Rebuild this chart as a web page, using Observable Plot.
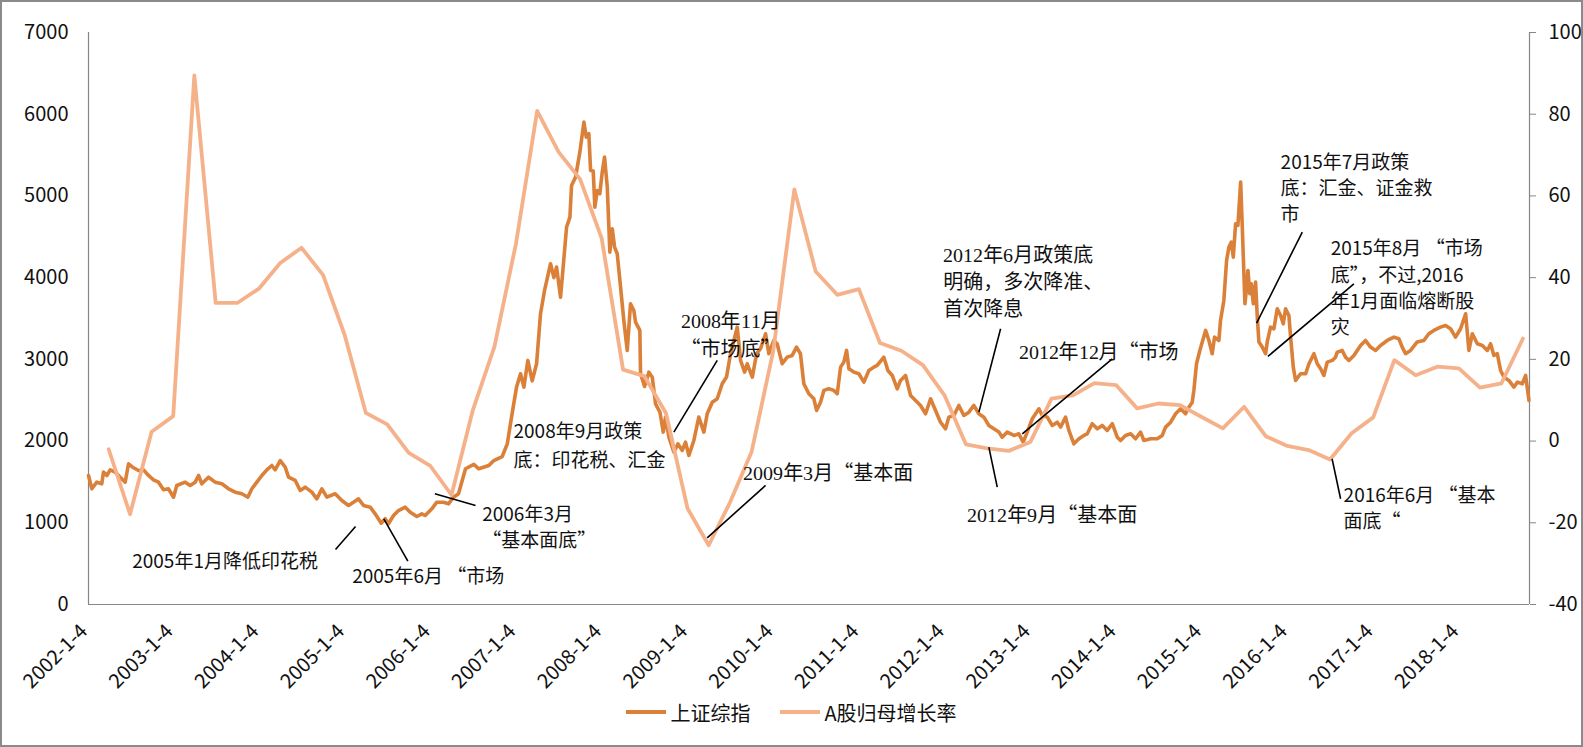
<!DOCTYPE html>
<html><head><meta charset="utf-8">
<script src="https://cdn.jsdelivr.net/npm/d3@7"></script>
<script src="https://cdn.jsdelivr.net/npm/@observablehq/plot@0.6"></script>
<style>
@font-face { font-family: "SerifLatin"; src: local("Liberation Serif"), local("LiberationSerif"), local("Liberation Serif Regular"); unicode-range: U+0020-007E; }
html,body{margin:0;padding:0;background:#fff;}
body{width:1583px;height:747px;overflow:hidden;position:relative;font-family:"Noto Sans CJK SC",sans-serif;}
#frame{position:fixed;left:0;top:0;width:1583px;height:747px;box-sizing:border-box;border:2px solid #8a8a8a;pointer-events:none;}
#legend{display:flex;justify-content:center;align-items:center;height:44px;font-size:20px;color:#111;}
.item{display:flex;align-items:center;margin:0 15px;}
.sw{display:inline-block;width:40px;height:4px;margin-right:4px;}
svg{display:block;}
</style></head><body>
<div id="chart"></div>
<div id="legend"></div>
<div id="frame"></div>
<script>
// 上证综指: [decimal year, index level]
const shIndex = [
[2002.010,1579],[2002.049,1416],[2002.107,1497],[2002.165,1477],[2002.185,1620],[2002.224,1579],[2002.263,1648],[2002.321,1620],[2002.380,1558],[2002.438,1497],[2002.477,1722],[2002.535,1673],[2002.593,1640],[2002.652,1648],[2002.710,1579],[2002.768,1526],[2002.827,1497],[2002.885,1404],[2002.943,1416],
[2003.002,1313],[2003.040,1456],[2003.138,1497],[2003.196,1456],[2003.255,1497],[2003.294,1579],[2003.332,1477],[2003.410,1558],[2003.488,1497],[2003.566,1477],[2003.644,1416],[2003.722,1375],[2003.799,1355],[2003.869,1313],[2003.916,1416],[2003.974,1497],
[2004.033,1579],[2004.091,1648],[2004.149,1701],[2004.188,1648],[2004.247,1762],[2004.305,1681],[2004.344,1558],[2004.422,1518],[2004.480,1395],[2004.538,1436],[2004.616,1375],[2004.674,1293],[2004.733,1416],[2004.791,1313],[2004.888,1355],[2004.966,1273],
[2005.044,1212],[2005.102,1252],[2005.160,1293],[2005.219,1212],[2005.297,1191],[2005.355,1110],[2005.425,995],[2005.472,1049],[2005.510,988],[2005.569,1089],[2005.627,1150],[2005.705,1191],[2005.764,1130],[2005.841,1077],[2005.899,1110],[2005.938,1089],
[2006.016,1171],[2006.074,1252],[2006.152,1252],[2006.210,1232],[2006.269,1313],[2006.327,1355],[2006.409,1661],[2006.506,1714],[2006.564,1661],[2006.681,1701],[2006.739,1762],[2006.837,1811],[2006.896,1966],[2006.946,2293],
[2007.004,2660],[2007.051,2824],[2007.090,2660],[2007.136,2987],[2007.187,2736],[2007.238,2946],[2007.284,3558],[2007.331,3843],[2007.401,4170],[2007.440,4000],[2007.471,4129],[2007.518,3761],[2007.588,4618],[2007.627,4740],[2007.646,5128],[2007.693,5230],[2007.743,5536],[2007.790,5903],[2007.818,5720],[2007.848,5761],[2007.868,5312],[2007.899,5304],[2007.918,4863],[2007.946,5067],[2007.976,5027],
[2008.004,5291],[2008.031,5475],[2008.063,5108],[2008.093,4312],[2008.121,4598],[2008.148,4374],[2008.179,4292],[2008.218,3884],[2008.256,3476],[2008.296,3109],[2008.334,3680],[2008.373,3598],[2008.393,3455],[2008.443,3354],[2008.451,2824],[2008.498,2668],[2008.548,2843],[2008.588,2782],[2008.626,2456],[2008.677,2355],[2008.716,2110],[2008.743,2293],[2008.782,2048],[2008.840,1864],[2008.887,1966],[2008.938,1885],[2008.976,1987],
[2009.015,1824],[2009.073,2007],[2009.131,2293],[2009.190,2110],[2009.229,2334],[2009.288,2476],[2009.346,2518],[2009.404,2701],[2009.454,2783],[2009.501,3069],[2009.540,3231],[2009.579,3394],[2009.618,2987],[2009.665,2844],[2009.696,2946],[2009.755,2783],[2009.805,3069],[2009.851,3130],[2009.910,3313],[2009.948,3069],
[2010.006,3231],[2010.045,3191],[2010.104,2946],[2010.162,3027],[2010.221,3048],[2010.271,3150],[2010.317,3069],[2010.356,2701],[2010.415,2579],[2010.473,2518],[2010.505,2375],[2010.551,2476],[2010.590,2620],[2010.648,2640],[2010.707,2620],[2010.746,2579],[2010.785,2905],[2010.823,2966],[2010.855,3109],[2010.882,2885],[2010.940,2844],[2010.998,2824],
[2011.057,2721],[2011.115,2864],[2011.173,2905],[2011.212,2925],[2011.290,3027],[2011.337,2864],[2011.388,2803],[2011.446,2640],[2011.485,2742],[2011.543,2803],[2011.602,2558],[2011.660,2497],[2011.718,2436],[2011.777,2334],[2011.835,2518],[2011.893,2375],[2011.951,2231],
[2012.010,2150],[2012.048,2293],[2012.107,2313],[2012.165,2436],[2012.223,2313],[2012.282,2354],[2012.340,2436],[2012.398,2334],[2012.457,2293],[2012.515,2191],[2012.573,2150],[2012.632,2110],[2012.671,2048],[2012.730,2110],[2012.807,2069],[2012.865,2089],[2012.916,1987],[2012.963,2110],
[2013.022,2273],[2013.099,2395],[2013.138,2313],[2013.197,2293],[2013.255,2191],[2013.313,2231],[2013.352,2171],[2013.410,2293],[2013.449,2130],[2013.507,1966],[2013.566,2028],[2013.624,2069],[2013.663,2089],[2013.721,2212],[2013.780,2150],[2013.838,2191],[2013.896,2130],[2013.955,2212],
[2014.013,2048],[2014.052,2007],[2014.110,2069],[2014.169,2089],[2014.227,2028],[2014.285,2110],[2014.324,2007],[2014.402,2028],[2014.480,2028],[2014.538,2069],[2014.577,2171],[2014.636,2231],[2014.694,2334],[2014.752,2395],[2014.810,2334],[2014.849,2415],[2014.888,2476],[2014.907,2620],[2014.938,2946],[2014.977,3109],
[2015.005,3213],[2015.044,3354],[2015.083,3231],[2015.121,3069],[2015.148,3272],[2015.199,3231],[2015.218,3476],[2015.257,3721],[2015.289,4210],[2015.316,4374],[2015.344,4435],[2015.367,4251],[2015.394,4660],[2015.421,4639],[2015.453,5169],[2015.472,4618],[2015.503,3680],[2015.523,3884],[2015.538,4088],[2015.561,3803],[2015.577,3925],[2015.601,3680],[2015.627,3945],[2015.647,3517],[2015.666,3213],[2015.705,3150],[2015.744,3069],[2015.763,3213],[2015.802,3394],[2015.841,3374],[2015.880,3619],[2015.919,3537],[2015.950,3435],[2015.977,3619],
[2016.016,3537],[2016.036,3272],[2016.067,2905],[2016.094,2742],[2016.152,2824],[2016.211,2824],[2016.250,2946],[2016.308,3069],[2016.347,2946],[2016.386,2885],[2016.424,2803],[2016.463,2966],[2016.522,2987],[2016.560,3027],[2016.580,3088],[2016.638,3109],[2016.677,3027],[2016.716,2987],[2016.774,3048],[2016.852,3170],[2016.910,3231],[2016.968,3150],
[2017.027,3109],[2017.085,3170],[2017.163,3231],[2017.241,3272],[2017.299,3252],[2017.338,3150],[2017.377,3069],[2017.435,3109],[2017.513,3213],[2017.590,3231],[2017.649,3313],[2017.707,3354],[2017.785,3394],[2017.843,3415],[2017.902,3374],[2017.960,3272],
[2018.019,3374],[2018.078,3558],[2018.116,3109],[2018.156,3313],[2018.214,3191],[2018.273,3170],[2018.331,3109],[2018.369,3191],[2018.408,3048],[2018.447,3069],[2018.486,2864],[2018.525,2782],[2018.583,2742],[2018.641,2660],[2018.681,2721],[2018.739,2701],[2018.778,2803],[2018.817,2497]
];

// A股归母增长率 (%), quarterly
const growthQuarters = [
"2002-03-31","2002-06-30","2002-09-30","2002-12-31","2003-03-31","2003-06-30","2003-09-30","2003-12-31",
"2004-03-31","2004-06-30","2004-09-30","2004-12-31","2005-03-31","2005-06-30","2005-09-30","2005-12-31",
"2006-03-31","2006-06-30","2006-09-30","2006-12-31","2007-03-31","2007-06-30","2007-09-30","2007-12-31",
"2008-03-31","2008-06-30","2008-09-30","2008-12-31","2009-03-31","2009-06-30","2009-09-30","2009-12-31",
"2010-03-31","2010-06-30","2010-09-30","2010-12-31","2011-03-31","2011-06-30","2011-09-30","2011-12-31",
"2012-03-31","2012-06-30","2012-09-30","2012-12-31","2013-03-31","2013-06-30","2013-09-30","2013-12-31",
"2014-03-31","2014-06-30","2014-09-30","2014-12-31","2015-03-31","2015-06-30","2015-09-30","2015-12-31",
"2016-03-31","2016-06-30","2016-09-30","2016-12-31","2017-03-31","2017-06-30","2017-09-30","2017-12-31",
"2018-03-31","2018-06-30","2018-09-30"
];
const growthValues = [
-2,-17.9,2.3,6.1,89.5,33.8,33.8,37.3,
43.6,47.3,40.6,25.9,6.9,4.1,-2.9,-6.1,
-13.2,7.6,23.1,48.4,80.8,70.8,64.1,49.6,
17.5,15.9,6.8,-16.5,-25.5,-15,-2.6,22,
61.6,41.5,35.8,37.2,24.0,22.1,18.6,11.2,
-0.8,-1.8,-2.4,-0.2,10.4,11.2,14.2,13.7,
8.0,9.2,8.8,5.9,3.1,8.4,1.2,-1.2,
-2.2,-4.5,1.9,5.8,19.8,16.1,18.2,17.8,
13.1,14.1,25.1
];

const leftTicks = [0,1000,2000,3000,4000,5000,6000,7000];
const rightTicks = [-40,-20,0,20,40,60,80,100];
const xTickLabels = ["2002-1-4","2003-1-4","2004-1-4","2005-1-4","2006-1-4","2007-1-4","2008-1-4","2009-1-4","2010-1-4","2011-1-4","2012-1-4","2013-1-4","2014-1-4","2015-1-4","2016-1-4","2017-1-4","2018-1-4"];
const xDomain = ["2002-1-4","2018-10-28"];
const seriesNames = ["上证综指","A股归母增长率"];
const seriesColors = ["#DB8038","#F5B28A"];

// annotations: position in [decimal year, index level]
const annoSans = [
{t:2002.52,v:526,text:"2005年1月降低印花税"},
{t:2005.087,v:343,text:"2005年6月 “市场"},
{t:2006.604,v:1100,text:"2006年3月"},
{t:2006.604,v:777,text:"“基本面底”"},
{t:2006.969,v:2117,text:"2008年9月政策"},
{t:2006.969,v:1763,text:"底：印花税、汇金"},
{t:2015.919,v:5410,text:"2015年7月政策"},
{t:2015.919,v:5092,text:"底：汇金、证金救"},
{t:2015.919,v:4768,text:"市"},
{t:2016.503,v:4350,text:"2015年8月 “市场"},
{t:2016.503,v:4027,text:"底”，不过,2016"},
{t:2016.503,v:3704,text:"年1月面临熔断股"},
{t:2016.503,v:3380,text:"灾"},
{t:2016.654,v:1334,text:"2016年6月 “基本"},
{t:2016.654,v:1010,text:"面底“"}
];
const annoSerif = [
{t:2009.649,v:1603,text:"2009年3月“基本面"},
{t:2011.983,v:4270,text:"2012年6月政策底"},
{t:2011.983,v:3935,text:"明确，多次降准、"},
{t:2011.983,v:3610,text:"首次降息"},
{t:2012.862,v:3084,text:"2012年12月“市场"},
{t:2012.263,v:1089,text:"2012年9月“基本面"}
];
const annoSerifCentered = [
{t:2009.501,v:3460,text:"2008年11月"},
{t:2009.501,v:3121,text:"“市场底”"}
];
const annoLinks = [
{t1:2004.892,v1:673,t2:2005.126,v2:955},
{t1:2005.736,v1:530,t2:2005.456,v2:1049},
{t1:2006.526,v1:1212,t2:2006.051,v2:1355},
{t1:2009.346,v1:2987,t2:2008.840,v2:2109},
{t1:2009.91,v1:1457,t2:2009.229,v2:816},
{t1:2012.652,v1:3375,t2:2012.399,v2:2354},
{t1:2013.955,v1:3007,t2:2012.905,v2:2089},
{t1:2012.515,v1:1925,t2:2012.613,v2:1436},
{t1:2016.172,v1:4557,t2:2015.639,v2:3443},
{t1:2016.774,v1:3925,t2:2015.771,v2:3036},
{t1:2016.52,v1:1783,t2:2016.619,v2:1294}
];

const YEAR = 365.25 * 864e5;
const parseDate = s => { const [y,m,d] = s.split("-").map(Number); return new Date(Date.UTC(y, m - 1, d)); };
const T0 = Date.UTC(2002, 0, 4);
const fromYear = t => new Date(T0 + (t - 2002.01) * YEAR);
const toLeft = g => (g + 40) * 50;   // right axis (-40..100) onto left scale (0..7000)

const indexData = shIndex.map(([t, v]) => ({date: fromYear(t), value: v}));
const growthData = growthQuarters.map((q, i) => ({date: parseDate(q), value: growthValues[i]}));
const xTicks = xTickLabels.map(l => ({label: l, date: parseDate(l)}));

const SANS = "'Noto Sans CJK SC', sans-serif";
const SERIF = "SerifLatin, 'Noto Sans CJK SC', serif";
const AX = "#868686";
const AF = 19;

function draw() {
const chart = Plot.plot({
  width: 1583, height: 690,
  marginLeft: 88, marginRight: 54, marginTop: 32, marginBottom: 86,
  x: {type: "utc", domain: xDomain.map(parseDate), axis: null},
  y: {domain: [0, 7000], axis: null},
  style: {fontFamily: SANS, fontSize: "20px", color: "#111", background: "transparent", overflow: "visible"},
  marks: [
    Plot.ruleX([parseDate(xDomain[0])], {stroke: AX, strokeWidth: 1.2}),
    Plot.ruleX([parseDate(xDomain[1])], {stroke: AX, strokeWidth: 1.2}),
    Plot.ruleY([0], {stroke: AX, strokeWidth: 1.2}),
    Plot.axisY(leftTicks, {anchor: "left", tickSize: 0, tickPadding: 20, label: null, fontSize: 20, tickFormat: v => String(v)}),
    Plot.axisY(rightTicks.map(toLeft), {anchor: "right", tickSize: 6, tickPadding: 13, label: null, stroke: AX, fontSize: 20, tickFormat: v => String(v / 50 - 40)}),
    Plot.text(xTicks, {x: "date", text: "label", frameAnchor: "bottom", dy: 28, rotate: -45, textAnchor: "end", fontSize: 20, fill: "#111"}),
    Plot.line(indexData, {x: "date", y: "value", stroke: seriesColors[0], strokeWidth: 3.6, strokeLinejoin: "round", strokeLinecap: "round"}),
    Plot.line(growthData, {x: "date", y: d => toLeft(d.value), stroke: seriesColors[1], strokeWidth: 3.8, strokeLinejoin: "round", strokeLinecap: "round"}),
    Plot.link(annoLinks, {x1: d => fromYear(d.t1), y1: "v1", x2: d => fromYear(d.t2), y2: "v2", stroke: "#000", strokeWidth: 1.6}),
    Plot.text(annoSans, {x: d => fromYear(d.t), y: "v", text: "text", textAnchor: "start", fontSize: AF, fontFamily: SANS, fill: "#111"}),
    Plot.text(annoSerif, {x: d => fromYear(d.t), y: "v", text: "text", textAnchor: "start", fontSize: AF + 1, fontFamily: SERIF, fill: "#111"}),
    Plot.text(annoSerifCentered, {x: d => fromYear(d.t), y: "v", text: "text", textAnchor: "middle", fontSize: AF + 1, fontFamily: SERIF, fill: "#111"})
  ]
});
const host = document.getElementById("chart");
host.innerHTML = "";
host.appendChild(chart);
}
draw();
if (document.fonts && document.fonts.load) {
  document.fonts.load("20px SerifLatin", "2012").then(draw, () => {});
}

const legend = document.getElementById("legend");
seriesNames.forEach((name, i) => {
  const item = document.createElement("div");
  item.className = "item";
  const sw = document.createElement("span");
  sw.className = "sw";
  sw.style.background = seriesColors[i];
  const lab = document.createElement("span");
  lab.textContent = name;
  item.appendChild(sw); item.appendChild(lab);
  legend.appendChild(item);
});
</script></body></html>
